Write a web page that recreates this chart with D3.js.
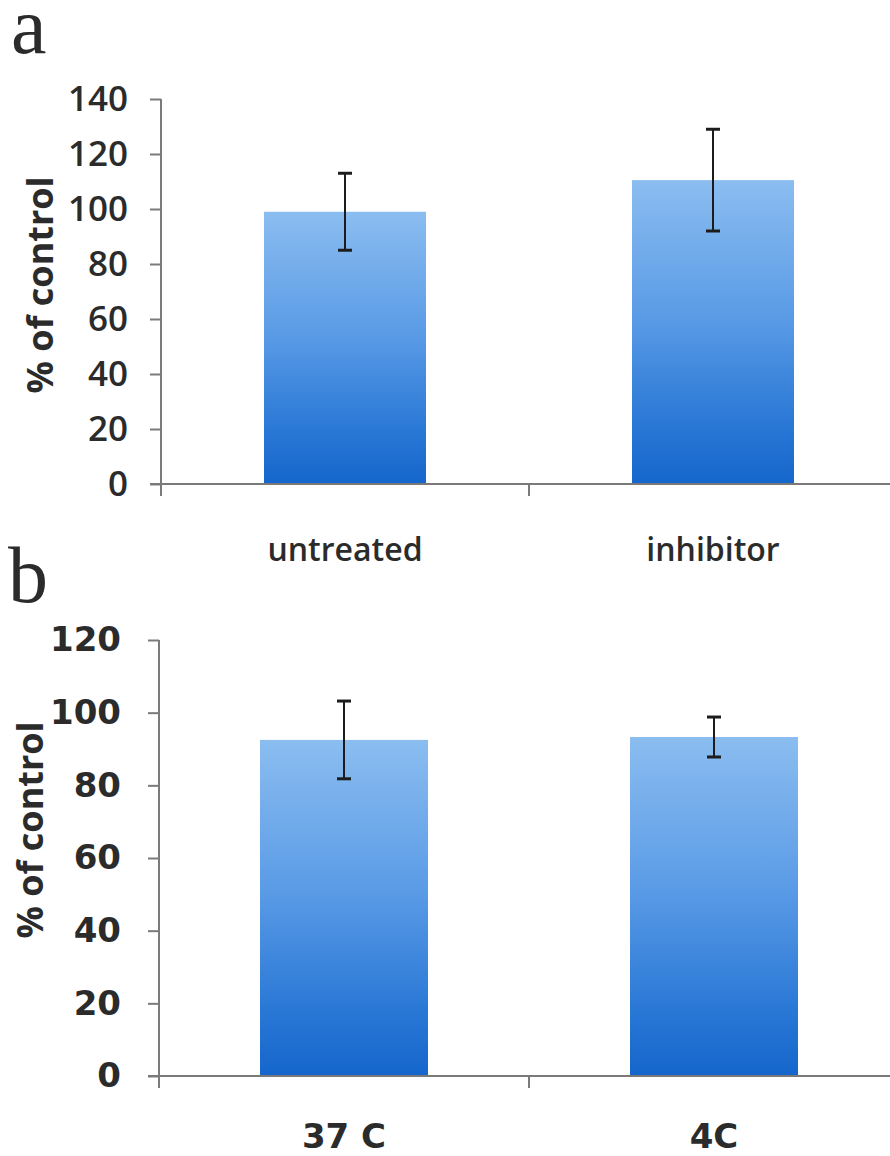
<!DOCTYPE html>
<html>
<head>
<meta charset="utf-8">
<script src="https://cdn.jsdelivr.net/npm/d3@7"></script>
<style>
  body { margin: 0; background: #fff; }
  svg { display: block; }
  .tick text { fill: #2b2b2b; }
</style>
</head>
<body>
<svg id="chart" width="890" height="1156"></svg>
<script>
// panel a
var catsA = ["untreated", "inhibitor"];
var valsA = [99, 110.5];
var errA = [14, 18.5];
var ticksA = [0, 20, 40, 60, 80, 100, 120, 140];

// panel b
var catsB = ["37 C", "4C"];
var valsB = [92.5, 93.3];
var errB = [10.7, 5.5];
var ticksB = [0, 20, 40, 60, 80, 100, 120];

var svg = d3.select('#chart');

// one gradient per bar (light top, deep blue bottom)
var defs = svg.append('defs');
var grad = defs.append('linearGradient')
    .attr('id', 'barGrad')
    .attr('x1', 0).attr('y1', 0).attr('x2', 0).attr('y2', 1);
grad.append('stop').attr('offset', '0%').attr('stop-color', '#8bbdf0');
grad.append('stop').attr('offset', '45%').attr('stop-color', '#5a9be6');
grad.append('stop').attr('offset', '80%').attr('stop-color', '#2a78d6');
grad.append('stop').attr('offset', '100%').attr('stop-color', '#1566cc');

function drawPanel(opt) {
    var g = svg.append('g');

    const y = d3.scaleLinear()
      .domain([0, opt.max])
      .range([opt.y0, opt.y1]);

    const x = d3.scaleBand()
      .domain(opt.cats)
      .range([opt.x0, opt.x0 + 2 * opt.band]);

    const barW = opt.barW;

    // bars
    g.selectAll('rect.bar')
      .data(opt.vals)
      .enter()
      .append('rect')
      .attr('class', 'bar')
      .attr('x', (d, i) => x(opt.cats[i]) + x.bandwidth() / 2 - barW / 2)
      .attr('y', (d) => y(d))
      .attr('width', barW)
      .attr('height', (d) => y(0) - y(d))
      .attr('fill', 'url(#barGrad)');

    // error bars
    const eb = g.selectAll('g.err')
      .data(opt.vals)
      .enter()
      .append('g')
      .attr('class', 'err')
      .attr('stroke', '#1c1c1c')
      .attr('stroke-width', 2);

    eb.append('line')
      .attr('x1', (d, i) => x(opt.cats[i]) + x.bandwidth() / 2)
      .attr('x2', (d, i) => x(opt.cats[i]) + x.bandwidth() / 2)
      .attr('y1', (d, i) => y(d + opt.err[i]))
      .attr('y2', (d, i) => y(d - opt.err[i]));

    [1, -1].forEach(function (s) {
      eb.append('line')
        .attr('x1', (d, i) => x(opt.cats[i]) + x.bandwidth() / 2 - 7)
        .attr('x2', (d, i) => x(opt.cats[i]) + x.bandwidth() / 2 + 7)
        .attr('y1', (d, i) => y(d + s * opt.err[i]))
        .attr('y2', (d, i) => y(d + s * opt.err[i]))
        .attr('stroke-width', 3);
    });

    // y axis
    const yAxis = g.append('g')
      .attr('transform', `translate(${opt.x0}, 0)`)
      .call(d3.axisLeft(y)
        .tickValues(opt.ticks)
        .tickSize(11)
        .tickSizeOuter(0)
        .tickPadding(opt.tickPad));

    yAxis.select('.domain').remove();
    yAxis.selectAll('.tick line').attr('stroke', '#7a7a7a').attr('stroke-width', 2);
    yAxis.selectAll('.tick text')
      .style('font-family', opt.font)
      .style('font-weight', opt.weight)
      .style('font-size', opt.tickSize + 'px');

    const tickLen = 12;
    // y axis line, runs down through the x axis
    g.append('line')
      .attr('x1', opt.x0).attr('x2', opt.x0)
      .attr('y1', y(opt.max)).attr('y2', y(0) + tickLen)
      .attr('stroke', '#7a7a7a').attr('stroke-width', 2);

    // x axis line
    g.append('line')
      .attr('x1', opt.x0 - 11).attr('x2', 890)
      .attr('y1', y(0)).attr('y2', y(0))
      .attr('stroke', '#7a7a7a').attr('stroke-width', 2);

    // category boundary ticks
    g.selectAll('line.xtick')
      .data(opt.cats.slice(1))
      .enter()
      .append('line')
      .attr('class', 'xtick')
      .attr('x1', (c) => x(c)).attr('x2', (c) => x(c))
      .attr('y1', y(0)).attr('y2', y(0) + tickLen)
      .attr('stroke', '#7a7a7a').attr('stroke-width', 2);

    // category labels
    g.selectAll('text.cat')
      .data(opt.cats)
      .enter()
      .append('text')
      .attr('class', 'cat')
      .attr('x', (c) => x(c) + x.bandwidth() / 2)
      .attr('y', opt.catY)
      .attr('text-anchor', 'middle')
      .style('font-family', opt.font)
      .style('font-weight', opt.weight)
      .style('font-size', opt.catSize + 'px')
      .attr('fill', '#2b2b2b')
      .text((c) => c);

    // y title
    g.append('text')
      .attr('transform', `translate(${opt.titleX}, ${opt.titleY}) rotate(-90)`)
      .attr('text-anchor', 'middle')
      .style('font-family', 'Open Sans, sans-serif')
      .style('font-weight', 700)
      .style('font-size', opt.titleSize + 'px')
      .attr('fill', '#2b2b2b')
      .text('% of control');

    // panel letter
    g.append('text')
      .attr('x', opt.letterX)
      .attr('y', opt.letterY)
      .style('font-family', 'Liberation Serif, serif')
      .style('font-size', '80px')
      .attr('fill', '#2b2b2b')
      .text(opt.letter);
}

drawPanel({
    letter: 'a', letterX: 11, letterY: 53,
    cats: catsA, vals: valsA, err: errA, ticks: ticksA, max: 140,
    x0: 161, band: 368, barW: 162,
    y0: 484, y1: 99,
    font: 'Open Sans, sans-serif', weight: 600,
    tickSize: 35, tickPad: 22,
    catSize: 32, catY: 561,
    titleX: 53, titleY: 285, titleSize: 36
});

drawPanel({
    letter: 'b', letterX: 8, letterY: 602,
    cats: catsB, vals: valsB, err: errB, ticks: ticksB, max: 120,
    x0: 159, band: 370, barW: 168,
    y0: 1076, y1: 640,
    font: 'DejaVu Sans, sans-serif', weight: 700,
    tickSize: 34, tickPad: 27,
    catSize: 34, catY: 1148,
    titleX: 43, titleY: 830, titleSize: 36
});
</script>
</body>
</html>
